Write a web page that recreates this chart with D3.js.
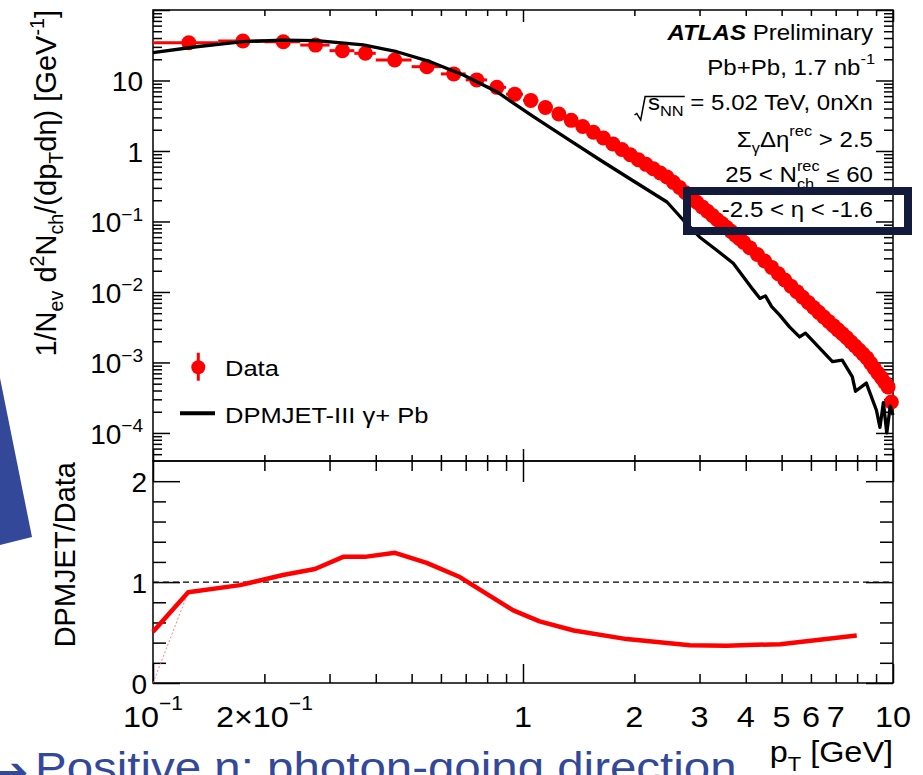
<!DOCTYPE html>
<html>
<head>
<meta charset="utf-8">
<script src="https://cdn.jsdelivr.net/npm/d3@7"></script>
<style>
  body { margin: 0; background: #fff; }
  svg { display: block; font-family: "Liberation Sans", Arial, Helvetica, sans-serif; }
</style>
</head>
<body>
<div id="chart"></div>
<script>
// ---- data ----
// pT bin edges [GeV] of the measured spectrum
var binEdges = [0.10, 0.15, 0.20, 0.25, 0.30, 0.35, 0.4, 0.5, 0.6, 0.7, 0.8, 0.9,
    1.0, 1.1, 1.2, 1.3, 1.4, 1.5, 1.6, 1.7, 1.8, 1.9,
    2.0, 2.1, 2.2, 2.3, 2.4, 2.5, 2.6, 2.7, 2.8, 2.9,
    3.0, 3.1, 3.2, 3.3, 3.4, 3.5, 3.6, 3.7, 3.8, 3.9,
    4.0, 4.2, 4.4, 4.6, 4.8, 5.0, 5.2, 5.4, 5.6, 5.8,
    6.0, 6.2, 6.4, 6.6, 6.8, 7.0, 7.2, 7.4, 7.6, 7.8,
    8.0, 8.2, 8.4, 8.6, 8.8, 9.0, 9.2, 9.4, 9.6, 9.8, 10.0];
// 1/Nev d2N/(dpT deta), data
var dataVal = [34.3, 36.3, 35.5, 31.8, 26.5, 24.3, 19.5, 15.7, 12.4, 10.2, 8.0, 6.4,
    5.22, 4.13, 3.35, 2.72, 2.23, 1.84, 1.53, 1.26, 1.05, 0.883,
    0.750, 0.646, 0.559, 0.488, 0.428, 0.359, 0.303, 0.256, 0.218, 0.187,
    0.161, 0.140, 0.122, 0.106, 0.0933, 0.0822, 0.0724, 0.0641, 0.0569, 0.0506,
    0.0425, 0.0340, 0.0275, 0.0223, 0.0181, 0.0148, 0.0121, 0.0101, 0.00843, 0.00711,
    0.00603, 0.00514, 0.00442, 0.00382, 0.00333, 0.00290, 0.00255, 0.00224, 0.00195, 0.00171,
    0.00150, 0.00132, 0.00116, 0.00098, 0.00083, 0.00071, 0.00061, 0.00052, 0.00045, 0.000275];

// DPMJET-III gamma+Pb curve
var mcPt = [0.1, 0.131, 0.175, 0.225, 0.277, 0.37, 0.456, 0.561, 0.69, 0.849, 1.067, 1.313,
    1.616, 1.988, 2.45, 2.71, 3.0, 3.4, 3.7, 4.19, 4.37, 4.52, 4.7, 4.94, 5.25, 5.59, 5.8,
    6.28, 6.86, 7.29, 7.76, 7.92, 8.47, 9.02, 9.22, 9.42, 9.62, 9.83, 10];
var mcVal = [24.8, 30.1, 35.5, 37.5, 36.7, 31.9, 25.6, 18.5, 12.0, 6.93, 3.07, 1.51,
    0.745, 0.375, 0.189, 0.105, 0.0603, 0.0363, 0.0255, 0.0107, 0.0081, 0.0088, 0.0062, 0.0047,
    0.0032, 0.0023, 0.0026, 0.00168, 0.00103, 0.00108, 0.00063, 0.00039, 0.00051, 0.00021,
    0.00012, 0.00027, 0.0001, 0.00024, 0.00018];

// DPMJET / Data
var ratioPt = [0.1, 0.1245, 0.1718, 0.2246, 0.274, 0.3266, 0.3738, 0.4509, 0.5491, 0.6749,
    0.9415, 1.109, 1.371, 1.907, 2.824, 3.55, 4.96, 7.98];
var ratioVal = [0.507, 0.90, 0.97, 1.07, 1.13, 1.25, 1.25, 1.29, 1.19, 1.05,
    0.72, 0.61, 0.52, 0.435, 0.375, 0.37, 0.385, 0.47];
var ratioBandPt = [0.1, 0.1245];
var ratioBandVal = [0, 0.90];

// tick labels
var xLabelVals = [0.1, 0.2, 1, 2, 3, 4, 5, 6, 7, 10];
var xLabelBase = ["10", "2\u00d710", "1", "2", "3", "4", "5", "6", "7", "10"];
var xLabelExp = ["\u22121", "\u22121", "", "", "", "", "", "", "", ""];
var yLabelVals = [1e-4, 1e-3, 1e-2, 1e-1, 1, 10];
var yLabelBase = ["10", "10", "10", "10", "1", "10"];
var yLabelExp = ["\u22124", "\u22123", "\u22122", "\u22121", "", ""];
var rLabelVals = [0, 1, 2];

// ---- layout ----
var W = 923, H = 775;
var frame = {left: 153, right: 893, top: 10, mid: 461, bottom: 683};

var svg = d3.select("#chart").append("svg")
    .attr("width", W).attr("height", H);
svg.append("rect").attr("width", W).attr("height", H).attr("fill", "#fff");

var x = d3.scaleLog().domain([0.1, 10]).range([frame.left, frame.right]);
var y = d3.scaleLog().domain([4e-5, 100]).range([frame.mid, frame.top]);
var yr = d3.scaleLinear().domain([0, 2.2]).range([frame.bottom, frame.mid]);

// text with sub/superscripts, optionally stretched horizontally
function richText(parent, px, py, opt, parts) {
    var tr = "translate(" + px + "," + py + ")";
    if (opt.rotate) tr += " rotate(" + opt.rotate + ")";
    if (opt.sx && opt.sx !== 1) tr += " scale(" + opt.sx + ",1)";
    var g = parent.append("g").attr("transform", tr);
    var size = opt.size;
    var t = g.append("text")
        .attr("text-anchor", opt.anchor || "start")
        .attr("fill", opt.color || "#000")
        .style("font-size", size + "px");
    var cur = 0;
    var spans = [];
    parts.forEach(function(p) {
        var kind = p.k || "n";
        var off = kind === "sup" ? -(opt.supShift || 0.45) * size
            : (kind === "sub" ? (opt.subShift || 0.28) * size : 0);
        var ts = t.append("tspan").text(p.t)
            .attr("dy", off - cur)
            .style("font-size", (kind === "n" ? size : size * (opt.small || 0.68)) + "px");
        if (p.dx) ts.attr("dx", p.dx);
        if (p.bold) ts.style("font-weight", "bold").style("font-style", "italic");
        spans.push(ts);
        cur = off;
    });
    return {g: g, t: t, spans: spans};
}

// ---- frames ----
var axes = svg.append("g");
axes.append("rect")
    .attr("x", frame.left).attr("y", frame.top)
    .attr("width", frame.right - frame.left).attr("height", frame.mid - frame.top)
    .attr("fill", "none").attr("stroke", "#000").attr("stroke-width", 1.5);
axes.append("rect")
    .attr("x", frame.left).attr("y", frame.mid)
    .attr("width", frame.right - frame.left).attr("height", frame.bottom - frame.mid)
    .attr("fill", "none").attr("stroke", "#000").attr("stroke-width", 1.5);

// ---- ticks (ROOT style, inward on all sides) ----
function drawTicks(tx, ty, axis) {
    var g = axes.append("g").attr("transform", "translate(" + tx + "," + ty + ")").call(axis);
    g.select(".domain").remove();
    g.selectAll("text").remove();
    g.selectAll("line").attr("stroke", "#000").attr("stroke-width", 1.5);
}

var xMajor = [0.1, 1, 10];
var xMinor = [0.2, 0.3, 0.4, 0.5, 0.6, 0.7, 0.8, 0.9, 2, 3, 4, 5, 6, 7, 8, 9];
var yMajor = [1e-4, 1e-3, 1e-2, 1e-1, 1, 10, 100];
var yMinor = [];
[1e-5, 1e-4, 1e-3, 1e-2, 1e-1, 1, 10].forEach(function(d) {
    for (var m = 2; m <= 9; m++) {
        var v = m * d;
        if (v > 4e-5 && v < 100) yMinor.push(v);
    }
});
var rMajor = [0, 1, 2];
var rMinor = [0.2, 0.4, 0.6, 0.8, 1.2, 1.4, 1.6, 1.8];

// upper panel
drawTicks(0, frame.top, d3.axisTop(x).tickValues(xMajor).tickSize(-12));
drawTicks(0, frame.top, d3.axisTop(x).tickValues(xMinor).tickSize(-6));
drawTicks(0, frame.mid, d3.axisBottom(x).tickValues(xMajor).tickSize(-12));
drawTicks(0, frame.mid, d3.axisBottom(x).tickValues(xMinor).tickSize(-6));
drawTicks(frame.left, 0, d3.axisLeft(y).tickValues(yMajor).tickSize(-17));
drawTicks(frame.left, 0, d3.axisLeft(y).tickValues(yMinor).tickSize(-9));
drawTicks(frame.right, 0, d3.axisRight(y).tickValues(yMajor).tickSize(-17));
drawTicks(frame.right, 0, d3.axisRight(y).tickValues(yMinor).tickSize(-9));

// ratio panel
drawTicks(0, frame.mid, d3.axisTop(x).tickValues(xMajor).tickSize(-21));
drawTicks(0, frame.mid, d3.axisTop(x).tickValues(xMinor).tickSize(-10));
drawTicks(0, frame.bottom, d3.axisBottom(x).tickValues(xMajor).tickSize(-19));
drawTicks(0, frame.bottom, d3.axisBottom(x).tickValues(xMinor).tickSize(-9));
drawTicks(frame.left, 0, d3.axisLeft(yr).tickValues(rMajor).tickSize(-27));
drawTicks(frame.left, 0, d3.axisLeft(yr).tickValues(rMinor).tickSize(-13));
drawTicks(frame.right, 0, d3.axisRight(yr).tickValues(rMajor).tickSize(-27));
drawTicks(frame.right, 0, d3.axisRight(yr).tickValues(rMinor).tickSize(-13));

// ---- tick labels ----
var labels = svg.append("g");
xLabelVals.forEach(function(v, i) {
    var parts = [{t: xLabelBase[i]}];
    if (xLabelExp[i]) parts.push({t: xLabelExp[i], k: "sup"});
    richText(labels, x(v), 726.7, {size: 30, anchor: "middle", sx: 1.08, supShift: 0.55, small: 0.65}, parts);
});
yLabelVals.forEach(function(v, i) {
    var parts = [{t: yLabelBase[i]}];
    if (yLabelExp[i]) parts.push({t: yLabelExp[i], k: "sup"});
    richText(labels, 143, y(v) + 11, {size: 28, anchor: "end", supShift: 0.42, small: 0.68}, parts);
});
rLabelVals.forEach(function(v) {
    richText(labels, 147, yr(v) + 11, {size: 28, anchor: "end"}, [{t: String(v)}]);
});

// axis titles
richText(labels, 56, frame.top, {size: 29, anchor: "end", rotate: -90, subShift: 0.25, supShift: 0.42}, [
    {t: "1/N"}, {t: "ev", k: "sub"}, {t: " d"}, {t: "2", k: "sup"}, {t: "N"}, {t: "ch", k: "sub"},
    {t: "/(dp"}, {t: "T", k: "sub"}, {t: "d\u03b7) [GeV"}, {t: "-1", k: "sup"}, {t: "]"}
]);
richText(labels, 75, frame.mid + 1, {size: 29, anchor: "end", rotate: -90}, [{t: "DPMJET/Data"}]);
richText(labels, frame.right, 761.7, {size: 30, anchor: "end", sx: 1.08, subShift: 0.32}, [
    {t: "p"}, {t: "T", k: "sub"}, {t: " [GeV]"}
]);

// ---- ratio panel content ----
var plot = svg.append("g");
plot.append("line")
    .attr("x1", frame.left).attr("x2", frame.right)
    .attr("y1", yr(1)).attr("y2", yr(1))
    .attr("stroke", "#000").attr("stroke-width", 1.2).attr("stroke-dasharray", "6,4");

var rline = d3.line().x(function(d) { return x(d[0]); }).y(function(d) { return yr(d[1]); });
plot.append("path")
    .attr("d", rline(ratioBandPt.map(function(p, i) { return [p, ratioBandVal[i]]; })))
    .attr("fill", "none").attr("stroke", "#ff6060").attr("stroke-width", 0.8)
    .attr("stroke-dasharray", "2,2");
plot.append("path")
    .attr("d", rline(ratioPt.map(function(p, i) { return [p, ratioVal[i]]; })))
    .attr("fill", "none").attr("stroke", "#ff0000").attr("stroke-width", 4.5)
    .attr("stroke-linejoin", "round");

// ---- spectrum ----
var bins = dataVal.map(function(v, i) {
    return {lo: binEdges[i], hi: binEdges[i + 1], c: (binEdges[i] + binEdges[i + 1]) / 2, v: v};
});
plot.selectAll(".xerr").data(bins).enter().append("line")
    .attr("class", "xerr")
    .attr("x1", function(d) { return x(d.lo); })
    .attr("x2", function(d) { return x(d.hi); })
    .attr("y1", function(d) { return y(d.v); })
    .attr("y2", function(d) { return y(d.v); })
    .attr("stroke", "#ff0000").attr("stroke-width", 3);
plot.selectAll(".pt").data(bins).enter().append("circle")
    .attr("class", "pt")
    .attr("cx", function(d) { return x(d.c); })
    .attr("cy", function(d) { return y(d.v); })
    .attr("r", 7.5)
    .attr("fill", "#ff0000");

var mcline = d3.line().x(function(d) { return x(d[0]); }).y(function(d) { return y(d[1]); });
plot.append("path")
    .attr("d", mcline(mcPt.map(function(p, i) { return [p, mcVal[i]]; })))
    .attr("fill", "none").attr("stroke", "#000").attr("stroke-width", 3.3)
    .attr("stroke-linejoin", "round");

// ---- legend ----
var leg = svg.append("g");
leg.append("line").attr("x1", 198.3).attr("x2", 198.3).attr("y1", 352.7).attr("y2", 380.7)
    .attr("stroke", "#ff0000").attr("stroke-width", 3);
leg.append("circle").attr("cx", 198.3).attr("cy", 367.3).attr("r", 7).attr("fill", "#ff0000");
richText(leg, 225, 376, {size: 22, sx: 1.16}, [{t: "Data"}]);
leg.append("line").attr("x1", 180).attr("x2", 215).attr("y1", 413.3).attr("y2", 413.3)
    .attr("stroke", "#000").attr("stroke-width", 4);
richText(leg, 225, 422.7, {size: 22, sx: 1.16}, [{t: "DPMJET-III \u03b3+ Pb"}]);

// ---- info block ----
var info = svg.append("g");
var ix = 873, fs = 21.5, isx = 1.12;
var infoBase = [40, 75, 110, 146.7, 181.7, 216.7];
richText(info, ix, infoBase[0], {size: fs, anchor: "end", sx: isx}, [
    {t: "ATLAS", bold: true}, {t: " Preliminary"}
]);
richText(info, ix + 2, infoBase[1], {size: fs, anchor: "end", sx: isx, supShift: 0.5}, [
    {t: "Pb+Pb, 1.7 nb"}, {t: "-1", k: "sup"}
]);
var sq = richText(info, ix, infoBase[2], {size: fs, anchor: "end", sx: isx, subShift: 0.3}, [
    {t: "s"}, {t: "NN", k: "sub"}, {t: " = 5.02 TeV, 0nXn"}
]);
(function() {
    var n = sq.t.node();
    var e0 = n.getExtentOfChar(0), e2 = n.getExtentOfChar(2);
    var s0 = e0.x, xe = e2.x + e2.width;
    sq.g.append("path")
        .attr("d", "M" + (s0 - 12) + ",5 L" + (s0 - 10) + ",3.5 L" + (s0 - 6.5) + ",10 L" +
            (s0 - 2.5) + ",-13.5 L" + (xe + 1) + ",-13.5")
        .attr("fill", "none").attr("stroke", "#000").attr("stroke-width", 1.4);
})();
richText(info, ix, infoBase[3], {size: fs, anchor: "end", sx: isx, supShift: 0.5, subShift: 0.3}, [
    {t: "\u03a3"}, {t: "\u03b3", k: "sub"}, {t: "\u0394\u03b7"}, {t: "rec", k: "sup"}, {t: " > 2.5"}
]);
var nch = richText(info, ix, infoBase[4], {size: fs, anchor: "end", sx: isx, supShift: 0.5, subShift: 0.35}, [
    {t: "25 < N"}, {t: "rec", k: "sup"}, {t: "ch", k: "sub"}, {t: " \u2264 60"}
]);
(function() {
    var wRec = nch.spans[1].node().getComputedTextLength();
    var wCh = nch.spans[2].node().getComputedTextLength();
    nch.spans[2].attr("dx", -wRec);
    nch.spans[3].attr("dx", Math.max(0, wRec - wCh));
})();
richText(info, ix, infoBase[5], {size: fs, anchor: "end", sx: isx}, [{t: "-2.5 < \u03b7 < -1.6"}]);

// highlight box
svg.append("rect")
    .attr("x", 687).attr("y", 191).attr("width", 221).attr("height", 40)
    .attr("fill", "none").attr("stroke", "#131b3c").attr("stroke-width", 8);

// ---- slide decorations ----
svg.append("polygon")
    .attr("points", "0,378 32,537 0,545")
    .attr("fill", "#34489a");
svg.append("text")
    .attr("x", -5).attr("y", 786)
    .attr("fill", "#34489a")
    .style("font-family", "'DejaVu Sans', sans-serif")
    .style("font-size", "40px")
    .text("\u2794");
richText(svg, 35, 782, {size: 42, sx: 1.13, color: "#34489a"}, [
    {t: "Positive \u03b7: photon-going direction"}
]);
</script>
</body>
</html>
